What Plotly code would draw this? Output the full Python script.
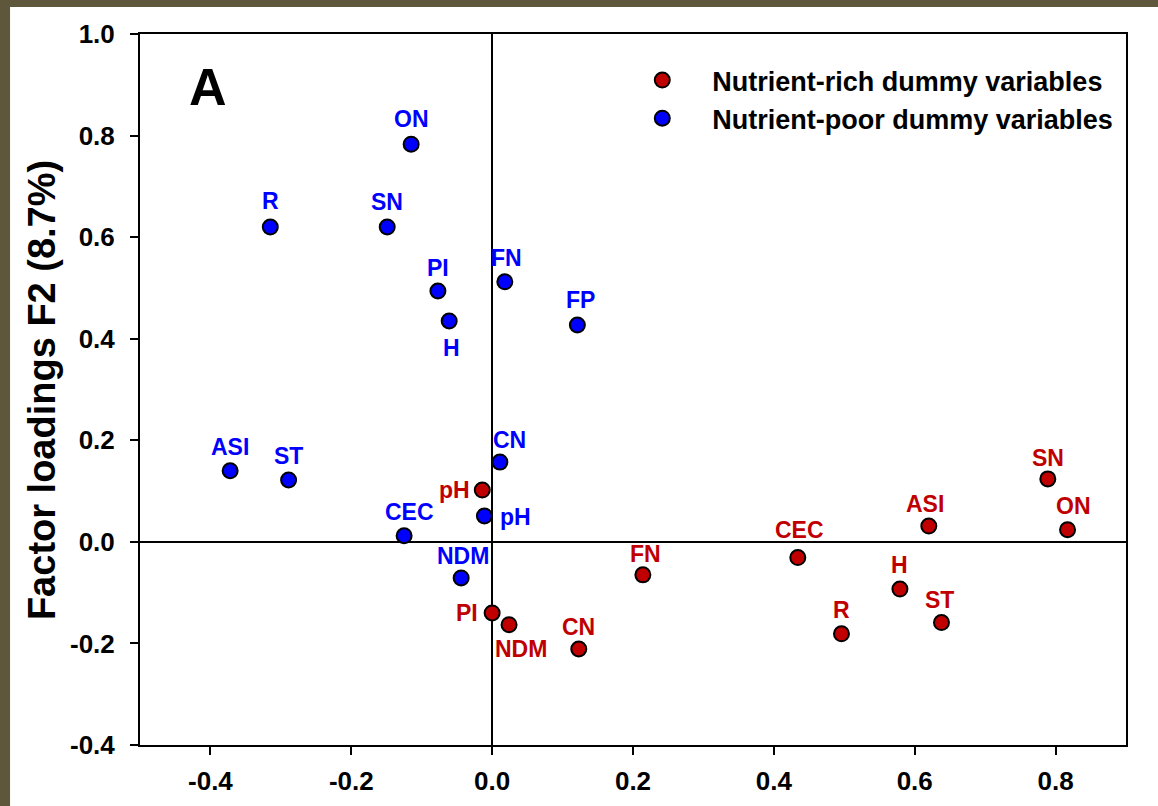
import plotly.graph_objects as go

# Factor loadings (F1, F2) of the dummy variables
rich_names = ["pH", "PI", "NDM", "CN", "FN", "CEC", "R", "H", "ASI", "ST", "SN", "ON"]
rich_f1 = [-0.014, 0.000, 0.024, 0.123, 0.214, 0.434, 0.496, 0.579, 0.620, 0.638, 0.789, 0.817]
rich_f2 = [0.102, -0.140, -0.163, -0.211, -0.065, -0.031, -0.181, -0.093, 0.031, -0.159, 0.124, 0.024]

poor_names = ["ON", "R", "SN", "PI", "H", "FN", "FP", "ASI", "ST", "CN", "pH", "CEC", "NDM"]
poor_f1 = [-0.115, -0.315, -0.149, -0.077, -0.061, 0.018, 0.121, -0.372, -0.289, 0.011, -0.011, -0.125, -0.044]
poor_f2 = [0.783, 0.620, 0.620, 0.494, 0.435, 0.512, 0.427, 0.140, 0.122, 0.157, 0.051, 0.012, -0.071]

x_ticks = [-0.4, -0.2, 0.0, 0.2, 0.4, 0.6, 0.8]
x_tick_labels = ["-0.4", "-0.2", "0.0", "0.2", "0.4", "0.6", "0.8"]
y_ticks = [-0.4, -0.2, 0.0, 0.2, 0.4, 0.6, 0.8, 1.0]
y_tick_labels = ["-0.4", "-0.2", "0.0", "0.2", "0.4", "0.6", "0.8", "1.0"]

RED = "#c00000"
BLUE = "#0000ff"
FONT = "Arial, Liberation Sans, sans-serif"

# label placement per point: (xshift, yshift, xanchor)
rich_label_pos = [(-10, 0, "right"), (-12, 0, "right"), (12, -24, "center"), (0, 22, "center"),
                  (3, 21, "center"), (2, 28, "center"), (0, 24, "center"), (0, 24, "center"),
                  (-4, 22, "center"), (-2, 23, "center"), (0, 21, "center"), (6, 24, "center")]
poor_label_pos = [(0, 25, "center"), (0, 26, "center"), (0, 25, "center"), (0, 23, "center"),
                  (2, -27, "center"), (2, 24, "center"), (3, 25, "center"), (0, 24, "center"),
                  (0, 24, "center"), (10, 22, "center"), (14, -1, "left"), (5, 24, "center"),
                  (2, 22, "center")]

fig = go.Figure()
fig.add_trace(go.Scatter(
    x=rich_f1, y=rich_f2, mode="markers", name="Nutrient-rich dummy variables",
    marker=dict(size=15, color=RED, line=dict(color="black", width=2)),
))
fig.add_trace(go.Scatter(
    x=poor_f1, y=poor_f2, mode="markers", name="Nutrient-poor dummy variables",
    marker=dict(size=15, color=BLUE, line=dict(color="black", width=2)),
))

annotations = []
for names, xs, ys, pos, col in [(rich_names, rich_f1, rich_f2, rich_label_pos, RED),
                                (poor_names, poor_f1, poor_f2, poor_label_pos, BLUE)]:
    for n, xv, yv, (dx, dy, anc) in zip(names, xs, ys, pos):
        annotations.append(dict(
            x=xv, y=yv, xref="x", yref="y", text=n, showarrow=False,
            xshift=dx, yshift=dy, xanchor=anc, yanchor="middle",
            font=dict(family=FONT, size=23, color=col, weight="bold"),
        ))

annotations.append(dict(
    x=0.069, y=0.9255, xref="paper", yref="paper", text="A", showarrow=False,
    xanchor="center", yanchor="middle",
    font=dict(family=FONT, size=52, color="black", weight="bold"),
))
annotations.append(dict(
    x=-0.0995, y=0.499, xref="paper", yref="paper", text="Factor loadings F2 (8.7%)",
    showarrow=False, textangle=-90, xanchor="center", yanchor="middle",
    font=dict(family=FONT, size=38, color="black", weight="bold"),
))

axis_common = dict(
    showline=True, linecolor="black", linewidth=2, mirror=True,
    ticks="outside", ticklen=8, tickwidth=2, tickcolor="black",
    showgrid=False, zeroline=True, zerolinecolor="black", zerolinewidth=2,
    automargin=False,
    tickfont=dict(family=FONT, size=26, color="black", weight="bold"),
)

fig.update_layout(
    width=1158, height=806,
    margin=dict(l=140, r=32, t=34, b=61),
    paper_bgcolor="white", plot_bgcolor="white",
    xaxis=dict(range=[-0.5, 0.9], tickvals=x_ticks, ticktext=x_tick_labels,
               ticklabelstandoff=4, **axis_common),
    yaxis=dict(range=[-0.4, 1.0], tickvals=y_ticks, ticktext=y_tick_labels,
               ticklabelstandoff=10, **axis_common),
    showlegend=True,
    legend=dict(
        x=0.479, y=0.969, xanchor="left", yanchor="top",
        bgcolor="rgba(0,0,0,0)", borderwidth=0, itemwidth=90,
        font=dict(family=FONT, size=27, color="black", weight="bold"),
    ),
    annotations=annotations,
    shapes=[
        dict(type="rect", xref="paper", yref="paper", x0=-0.16, x1=-0.1318, y0=-0.1,
             y1=1.06, fillcolor="#5f573b", line=dict(width=0), layer="below"),
        dict(type="rect", xref="paper", yref="paper", x0=-0.16, x1=1.05, y0=1.038,
             y1=1.06, fillcolor="#5f573b", line=dict(width=0), layer="below"),
    ],
)

fig.write_html("out.html")
